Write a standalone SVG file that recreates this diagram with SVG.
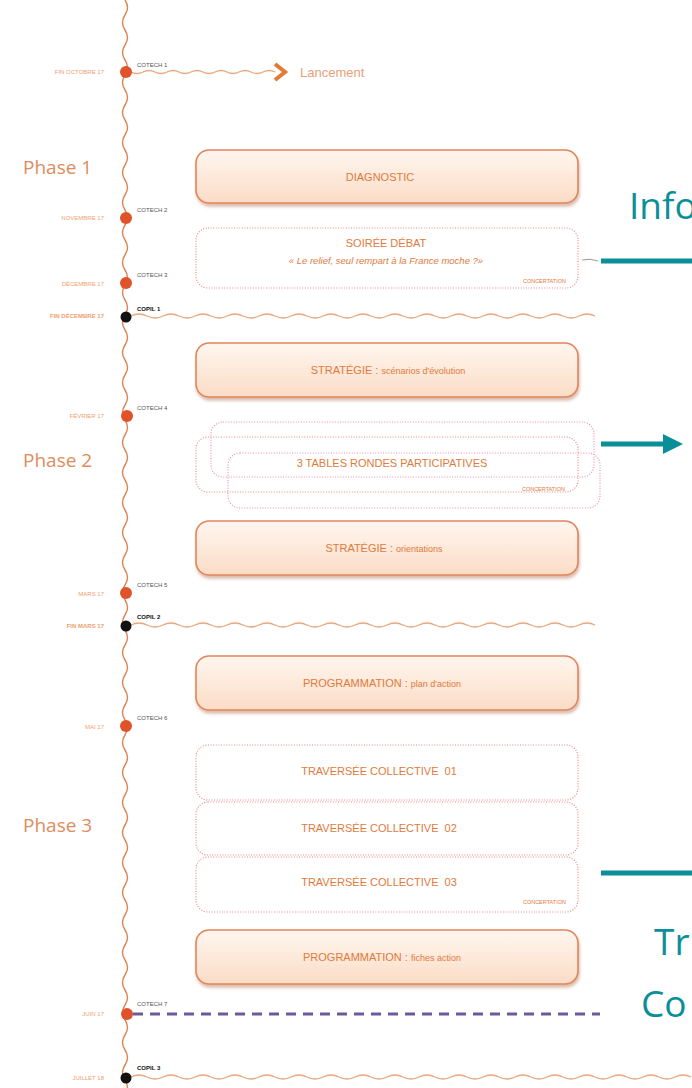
<svg xmlns="http://www.w3.org/2000/svg" width="692" height="1088" viewBox="0 0 692 1088">
<style>
.box{fill:url(#pg);stroke:#e2855a;stroke-width:1.6}
.dbox{fill:#fff;stroke:#e98a8a;stroke-width:1.2;stroke-dasharray:1 1.6}
.pbox{fill:none;stroke:#ef8fb0;stroke-width:1.2;stroke-dasharray:1 1.6}
.bt{font-family:"Liberation Sans",Arial,sans-serif;font-size:11px;fill:#e07a3c;text-anchor:middle;white-space:pre}
.bs{font-size:9px}
.conc{font-family:"Liberation Sans",Arial,sans-serif;font-size:5.5px;fill:#e07a3c;text-anchor:end}
.date{font-family:"Liberation Sans",Arial,sans-serif;font-size:6px;fill:#f0a070;text-anchor:end}
.cot{font-family:"Liberation Sans",Arial,sans-serif;font-size:6px;fill:#555}
.cop{font-family:"Liberation Sans",Arial,sans-serif;font-size:6px;fill:#111;font-weight:bold}
.phase{font-family:"Open Sans","Liberation Sans",sans-serif;font-size:19px;fill:#e08c5c}
.teal{font-family:"Open Sans","Liberation Sans",sans-serif;font-size:37px;fill:#0a8f98}
.wave{fill:none;stroke:#eaa67c;stroke-width:1.3}
.red{fill:#e0522a}
.blk{fill:#111}
</style>
<defs>
<linearGradient id="pg" x1="0" y1="0" x2="0" y2="1">
<stop offset="0" stop-color="#fff6ef"/>
<stop offset="1" stop-color="#fbdcc6"/>
</linearGradient>
<filter id="sh" x="-5%" y="-20%" width="110%" height="150%">
<feDropShadow dx="1" dy="3" stdDeviation="1.5" flood-color="#b07050" flood-opacity="0.45"/>
</filter>
<marker id="ta" markerWidth="4" markerHeight="4" refX="1" refY="2" orient="auto" markerUnits="strokeWidth">
<path d="M0,0 L4,2 L0,4 Z" fill="#0a8f98"/>
</marker>
</defs>

<g id="connectors">
<path id="timeline" fill="none" stroke="#d98552" stroke-width="1.4" d="M125,0 q5,7.5 0,15 t0,15 t0,15 t0,15 t0,15 t0,15 t0,15 t0,15 t0,15 t0,15 t0,15 t0,15 t0,15 t0,15 t0,15 t0,15 t0,15 t0,15 t0,15 t0,15 t0,15 t0,15 t0,15 t0,15 t0,15 t0,15 t0,15 t0,15 t0,15 t0,15 t0,15 t0,15 t0,15 t0,15 t0,15 t0,15 t0,15 t0,15 t0,15 t0,15 t0,15 t0,15 t0,15 t0,15 t0,15 t0,15 t0,15 t0,15 t0,15 t0,15 t0,15 t0,15 t0,15 t0,15 t0,15 t0,15 t0,15 t0,15 t0,15 t0,15 t0,15 t0,15 t0,15 t0,15 t0,15 t0,15 t0,15 t0,15 t0,15 t0,15 t0,15 t0,15 t0,15 t0,15 t0,15 t0,15"/>
<path class="wave" stroke="#e0704a" d="M131,72 q6,3 12,0 t12,0 t12,0 t12,0 t12,0 t12,0 t12,0 t12,0 t12,0 t12,0 t12,0 t12,0"/>
<polyline points="275,64 285,72 275,80" fill="none" stroke="#e57a35" stroke-width="4"/>
<path class="wave" d="M131,316 q8,-4 16,0 t16,0 t16,0 t16,0 t16,0 t16,0 t16,0 t16,0 t16,0 t16,0 t16,0 t16,0 t16,0 t16,0 t16,0 t16,0 t16,0 t16,0 t16,0 t16,0 t16,0 t16,0 t16,0 t16,0 t16,0 t16,0 t16,0 t16,0 t16,0"/>
<path class="wave" d="M131,625 q8,-4 16,0 t16,0 t16,0 t16,0 t16,0 t16,0 t16,0 t16,0 t16,0 t16,0 t16,0 t16,0 t16,0 t16,0 t16,0 t16,0 t16,0 t16,0 t16,0 t16,0 t16,0 t16,0 t16,0 t16,0 t16,0 t16,0 t16,0 t16,0 t16,0"/>
<path class="wave" d="M131,1077 q8,-4 16,0 t16,0 t16,0 t16,0 t16,0 t16,0 t16,0 t16,0 t16,0 t16,0 t16,0 t16,0 t16,0 t16,0 t16,0 t16,0 t16,0 t16,0 t16,0 t16,0 t16,0 t16,0 t16,0 t16,0 t16,0 t16,0 t16,0 t16,0 t16,0 t16,0 t16,0 t16,0 t16,0 t16,0 t16,0"/>
<line x1="133" y1="1014" x2="600" y2="1014" stroke="#6e5a9a" stroke-width="3" stroke-dasharray="10 7"/>
<path d="M582,260 q8,-2 16,1" fill="none" stroke="#999" stroke-width="1"/>
<line x1="601" y1="261" x2="692" y2="261" stroke="#0a8f98" stroke-width="5"/>
<line x1="601" y1="444" x2="668" y2="444" stroke="#0a8f98" stroke-width="5" marker-end="url(#ta)"/>
<line x1="601" y1="873" x2="692" y2="873" stroke="#0a8f98" stroke-width="5"/>
</g>

<g id="milestones">
<circle class="red" cx="126" cy="72" r="6"/>
<circle class="red" cx="126" cy="218" r="6"/>
<circle class="red" cx="126" cy="283" r="6"/>
<circle class="blk" cx="126" cy="317" r="5.5"/>
<circle class="red" cx="127" cy="416" r="6"/>
<circle class="red" cx="126" cy="593" r="6"/>
<circle class="blk" cx="126" cy="626" r="5.5"/>
<circle class="red" cx="126" cy="726" r="6"/>
<circle class="red" cx="127" cy="1014" r="6"/>
<circle class="blk" cx="126" cy="1078" r="5.5"/>
<text class="date" x="104" y="74">FIN OCTOBRE 17</text>
<text class="date" x="104" y="220">NOVEMBRE 17</text>
<text class="date" x="104" y="286">DÉCEMBRE 17</text>
<text class="date" x="104" y="318" fill="#e07030" style="font-weight:bold">FIN DÉCEMBRE 17</text>
<text class="date" x="104" y="418">FÉVRIER 17</text>
<text class="date" x="104" y="596">MARS 17</text>
<text class="date" x="104" y="628" style="font-weight:bold">FIN MARS 17</text>
<text class="date" x="104" y="729">MAI 17</text>
<text class="date" x="104" y="1016">JUIN 17</text>
<text class="date" x="104" y="1080">JUILLET 18</text>
<text class="cot" x="137" y="67">COTECH 1</text>
<text class="cot" x="137" y="212">COTECH 2</text>
<text class="cot" x="137" y="277">COTECH 3</text>
<text class="cop" x="137" y="311">COPIL 1</text>
<text class="cot" x="137" y="410">COTECH 4</text>
<text class="cot" x="137" y="587">COTECH 5</text>
<text class="cop" x="137" y="619">COPIL 2</text>
<text class="cot" x="137" y="720">COTECH 6</text>
<text class="cot" x="137" y="1006">COTECH 7</text>
<text class="cop" x="137" y="1070">COPIL 3</text>
<text x="300" y="77" style="font-family:'Liberation Sans',Arial,sans-serif;font-size:13px;fill:#e8a078">Lancement</text>
</g>

<g id="phases">
<text class="phase" x="23" y="174">Phase 1</text>
<text class="phase" x="23" y="467">Phase 2</text>
<text class="phase" x="23" y="832">Phase 3</text>
</g>

<g id="diagnostic">
<rect class="box" filter="url(#sh)" x="196" y="150" width="382" height="53" rx="13"/>
<text class="bt" x="380" y="181">DIAGNOSTIC</text>
</g>

<g id="soiree">
<rect class="dbox" x="196" y="228" width="382" height="60" rx="12"/>
<text class="bt" x="386" y="247">SOIRÉE DÉBAT</text>
<text class="bt" x="386" y="264" style="font-size:9.5px;font-style:italic">« Le relief, seul rempart à la France moche ?»</text>
<text class="conc" x="566" y="283">CONCERTATION</text>
</g>

<g id="strategie1">
<rect class="box" filter="url(#sh)" x="196" y="343" width="382" height="54" rx="13"/>
<text class="bt" x="388" y="374"><tspan>STRATÉGIE : </tspan><tspan class="bs">scénarios d'évolution</tspan></text>
</g>

<g id="tables">
<rect class="pbox" x="211" y="422" width="383" height="55" rx="12"/>
<rect class="dbox" style="fill:none" x="196" y="437" width="382" height="55" rx="12"/>
<rect class="pbox" x="228" y="453" width="372" height="55" rx="12"/>
<text class="bt" x="392" y="467">3 TABLES RONDES PARTICIPATIVES</text>
<text class="conc" x="565" y="491">CONCERTATION</text>
</g>

<g id="strategie2">
<rect class="box" filter="url(#sh)" x="196" y="521" width="382" height="54" rx="13"/>
<text class="bt" x="384" y="552"><tspan>STRATÉGIE : </tspan><tspan class="bs">orientations</tspan></text>
</g>

<g id="programmation1">
<rect class="box" filter="url(#sh)" x="196" y="656" width="382" height="54" rx="13"/>
<text class="bt" x="382" y="687"><tspan>PROGRAMMATION : </tspan><tspan class="bs">plan d'action</tspan></text>
</g>

<g id="traversee1">
<rect class="dbox" x="196" y="745" width="382" height="55" rx="12"/>
<text class="bt" x="379" y="775" xml:space="preserve">TRAVERSÉE COLLECTIVE  01</text>
</g>
<g id="traversee2">
<rect class="dbox" x="196" y="802" width="382" height="53" rx="12"/>
<text class="bt" x="379" y="832" xml:space="preserve">TRAVERSÉE COLLECTIVE  02</text>
</g>
<g id="traversee3">
<rect class="dbox" x="196" y="857" width="382" height="55" rx="12"/>
<text class="bt" x="379" y="886" xml:space="preserve">TRAVERSÉE COLLECTIVE  03</text>
<text class="conc" x="566" y="904">CONCERTATION</text>
</g>

<g id="programmation2">
<rect class="box" filter="url(#sh)" x="196" y="930" width="382" height="54" rx="13"/>
<text class="bt" x="382" y="961"><tspan>PROGRAMMATION : </tspan><tspan class="bs">fiches action</tspan></text>
</g>

<g id="side-labels">
<text class="teal" x="629" y="219">Info</text>
<text class="teal" x="654" y="955">Tr</text>
<text class="teal" x="641" y="1017">Co</text>
</g>
</svg>
